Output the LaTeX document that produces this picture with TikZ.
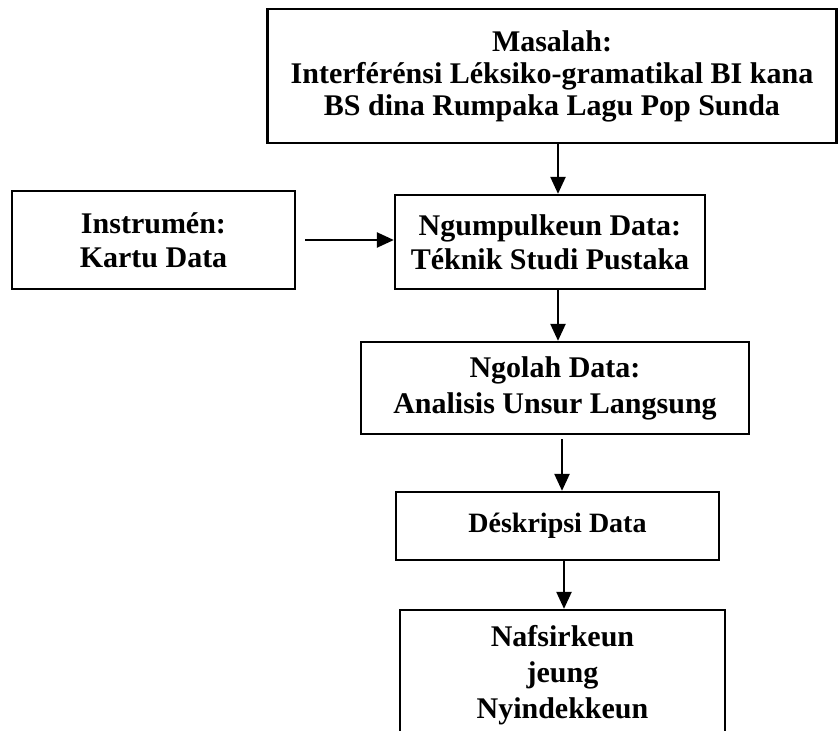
\documentclass[tikz,border=0pt]{standalone}
\usepackage{fontspec}
\setmainfont{Liberation Serif}
\usetikzlibrary{arrows.meta,positioning}

\tikzset{
	box/.style={draw,line width=2.3bp,align=center,inner sep=0pt,font=\bfseries\fontsize{30bp}{34bp}\selectfont},
	arr/.style={-{Triangle[length=17bp,width=15bp]},line width=2.3bp}
}

\begin{document}
\begin{tikzpicture}[x=1bp,y=-1bp]
		    \useasboundingbox (0,0) rectangle (839,731);
		    \clip (0,0) rectangle (839,731);
		    \node(masalah) [box,minimum width=569bp,minimum height=134bp,font=\bfseries\fontsize{30bp}{32bp}\selectfont] at (552,76) {Masalah:\\ Interférénsi Léksiko-gramatikal BI kana\\ BS dina Rumpaka Lagu Pop Sunda};
		    \node(ngumpul) [box,minimum width=310bp,minimum height=94bp] at (550,242) {Ngumpulkeun Data:\\ Téknik Studi Pustaka};
		    \node(instr) [box,minimum width=283bp,minimum height=98bp] at (153.5,240) {Instrumén:\\ Kartu Data};
		    \node(ngolah) [box,minimum width=388bp,minimum height=92bp,font=\bfseries\fontsize{30bp}{36bp}\selectfont] at (555,388) {Ngolah Data:\\ Analisis Unsur Langsung};
		    \node(deskripsi) [box,minimum width=323bp,minimum height=68bp,font=\bfseries\fontsize{28bp}{32bp}\selectfont] at (557.5,526) {Déskripsi Data};
		    \node(nafsir) [box,minimum width=325bp,minimum height=130bp,font=\bfseries\fontsize{30bp}{36bp}\selectfont] at (562.5,675) {Nafsirkeun\\ jeung\\ Nyindekkeun};
		    
		    \draw[arr] ([xshift=9bp]instr.east) -- (instr.east -| ngumpul.west);
		    \draw[arr] ([xshift=6bp]masalah.south) -- ([xshift=6bp]masalah.south |- ngumpul.north);
		    \draw[arr] ([xshift=8bp]ngumpul.south) -- ([xshift=8bp]ngumpul.south |- ngolah.north);
		    \draw[arr] ([xshift=7bp,yshift=-4bp]ngolah.south) -- ([xshift=7bp]ngolah.south |- deskripsi.north);
		    \draw[arr] ([xshift=6.5bp]deskripsi.south) -- ([xshift=6.5bp]deskripsi.south |- nafsir.north);
\end{tikzpicture}
\end{document}
